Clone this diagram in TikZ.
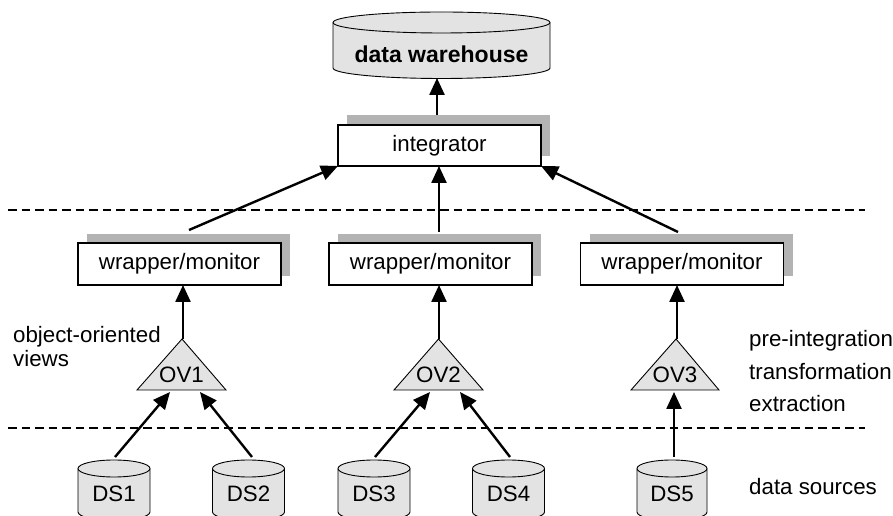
\documentclass[tikz,border=0pt]{standalone}
\usepackage{fontspec}
\setmainfont{Liberation Sans}
\usetikzlibrary{arrows.meta,shadows}
\definecolor{lgray}{HTML}{E3E3E3}
\definecolor{sgray}{HTML}{B3B3B3}
\newcommand\dbcyl[5]{%
  \draw[cylfill] ({#1-#2},#3) -- ({#1-#2},#4)
    arc[start angle=180,end angle=360,x radius=#2,y radius=#5]
    -- ({#1+#2},#3)
    arc[start angle=0,end angle=180,x radius=#2,y radius=#5] -- cycle;
  \draw[line width=0.9pt] ({#1-#2},#3)
    arc[start angle=180,end angle=360,x radius=#2,y radius=#5];}
\begin{document}
\begin{tikzpicture}[x=1pt,y=1pt,
  every node/.style={font=\fontsize{22.3pt}{26pt}\selectfont, inner sep=0pt},
  box/.style={draw, line width=1.2pt, fill=white, minimum width=203pt, minimum height=42pt},
  wshadow/.style={drop shadow={shadow xshift=9pt, shadow yshift=9pt, fill=sgray, opacity=1}},
  ishadow/.style={drop shadow={shadow xshift=9pt, shadow yshift=10pt, fill=sgray, opacity=1}},
  cylfill/.style={fill=lgray, draw, line width=0.9pt},
  trifill/.style={fill=lgray, draw, line width=0.9pt, line join=miter},
  arr/.style={line width=2.4pt, -{Triangle[length=17pt,width=15pt]}},
  sepline/.style={line width=1.8pt, dash pattern=on 8.5pt off 5pt},
  lab/.style={anchor=base west}]
\useasboundingbox (0,0) rectangle (893,516);

% separators
\coordinate (s1a) at (8,306); \coordinate (s1b) at (865,306);
\coordinate (s2a) at (8,88);  \coordinate (s2b) at (865,88);
\draw[sepline] (s1a) -- (s1b);
\draw[sepline] (s2a) -- (s2b);

% data warehouse
\dbcyl{441.5}{108.5}{493.5}{448}{10.5}
\node[font=\bfseries\fontsize{23pt}{27pt}\selectfont, anchor=base] (dw) at (441.5,453) {data warehouse};

% integrator and wrappers
\node[box, ishadow, minimum height=41pt] (integ) at (439.5,370.5) {integrator};
\node[box, wshadow] (w1) at (179.5,252) {wrapper/monitor};
\node[box, wshadow] (w2) at (430.5,252) {wrapper/monitor};
\node[box, wshadow] (w3) at (682,252) {wrapper/monitor};

% triangles
\draw[trifill] (137,126) -- (226,126) -- (182,177) -- cycle;
\draw[trifill] (394,126) -- (483,126) -- (438.5,177) -- cycle;
\draw[trifill] (631,126) -- (719,126) -- (676,177) -- cycle;
\node[anchor=base] (ov1) at (181.5,133) {OV1};
\node[anchor=base] (ov2) at (438.5,133) {OV2};
\node[anchor=base] (ov3) at (675,133) {OV3};

% data sources
\dbcyl{114}{36}{47.5}{4}{8.5}
\dbcyl{248.5}{36}{47.5}{4}{8.5}
\dbcyl{374}{36}{47.5}{4}{8.5}
\dbcyl{508.5}{36}{47.5}{4}{8.5}
\dbcyl{672}{35}{47.5}{4}{8.5}
\node[anchor=base] (ds1) at (114,14) {DS1};
\node[anchor=base] (ds2) at (248.5,14) {DS2};
\node[anchor=base] (ds3) at (374,14) {DS3};
\node[anchor=base] (ds4) at (508.5,14) {DS4};
\node[anchor=base] (ds5) at (672,14) {DS5};

% labels
\node[lab] (l1) at (13,173) {object-oriented};
\node[lab] (l2) at (13,149) {views};
\node[lab] (r1) at (749,169) {pre-integration};
\node[lab] (r2) at (749,136) {transformation};
\node[lab] (r3) at (749,104) {extraction};
\node[lab] (r4) at (749,21) {data sources};

% connector end points
\coordinate (dwbot) at (437,438);
\coordinate (itop) at (437,401);
\coordinate (ibl) at (338,350);
\coordinate (ibm) at (439,350);
\coordinate (ibr) at (541,350);
\coordinate (w1t) at (189,286);
\coordinate (w2t) at (439,284);
\coordinate (w3t) at (678,284);
\coordinate (w1b) at (183,231);
\coordinate (w2b) at (439,231);
\coordinate (w3b) at (677,231);
\coordinate (ov1t) at (183,177);
\coordinate (ov2t) at (439,177);
\coordinate (ov3t) at (677,177);
\coordinate (ov1l) at (170,124);
\coordinate (ov1r) at (200,124);
\coordinate (ov2l) at (430,124);
\coordinate (ov2r) at (460,124);
\coordinate (ov3b) at (674,124);
\coordinate (ds1t) at (115,59);
\coordinate (ds2t) at (252,59);
\coordinate (ds3t) at (375,59);
\coordinate (ds4t) at (510,59);
\coordinate (ds5t) at (674,59);

% arrows
\draw[arr] (itop) -- (dwbot);
\draw[arr] (w1t) -- (ibl);
\draw[arr] (w2t) -- (ibm);
\draw[arr] (w3t) -- (ibr);
\draw[arr] (ov1t) -- (w1b);
\draw[arr] (ov2t) -- (w2b);
\draw[arr] (ov3t) -- (w3b);
\draw[arr] (ds1t) -- (ov1l);
\draw[arr] (ds2t) -- (ov1r);
\draw[arr] (ds3t) -- (ov2l);
\draw[arr] (ds4t) -- (ov2r);
\draw[arr] (ds5t) -- (ov3b);
\end{tikzpicture}
\end{document}
